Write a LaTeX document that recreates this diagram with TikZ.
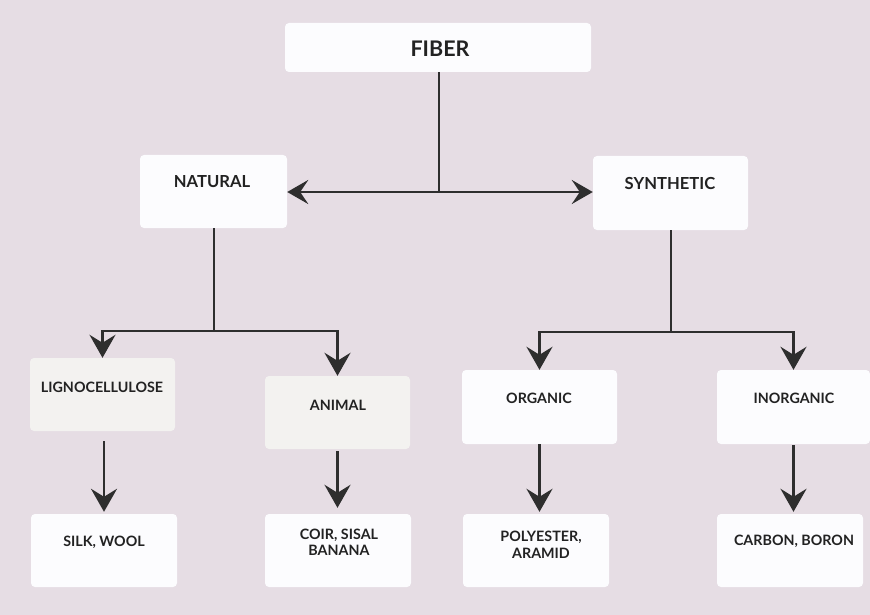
\documentclass[tikz,border=0pt]{standalone}
\usepackage{fontspec}
\setmainfont{Lato}
\usetikzlibrary{arrows.meta}
\definecolor{bgc}{HTML}{E6DDE4}
\definecolor{boxw}{HTML}{FCFCFE}
\definecolor{boxg}{HTML}{F3F2F0}
\definecolor{ink}{HTML}{222222}
\definecolor{linec}{HTML}{2E2E2E}
\tikzset{
  box/.style={draw=none, fill=boxw, rounded corners=4pt, inner sep=0pt},
  gbox/.style={box, fill=boxg},
  lbl/.style={text=ink, font=\bfseries\fontsize{14.3}{16.5}\selectfont, align=center, inner sep=0pt},
  biglbl/.style={lbl, font=\bfseries\fontsize{16.6}{19}\selectfont},
  toplbl/.style={lbl, font=\bfseries\fontsize{21.5}{24}\selectfont},
  conn/.style={draw=linec, line width=2.7pt},
  arr/.style={conn, -{Stealth[length=23pt,width=26pt,inset=8pt]}},
  darr/.style={conn, {Stealth[length=21pt,width=24pt,inset=8pt]}-{Stealth[length=21pt,width=24pt,inset=8pt]}},
}
\begin{document}
\begin{tikzpicture}[x=1pt,y=-1pt]
\fill[bgc] (0,0) rectangle (870,615);
\useasboundingbox (0,0) rectangle (870,615);
% boxes
\node[box, minimum width=306pt, minimum height=49pt] (fiber) at (438,47.5) {};
\node[box, minimum width=147pt, minimum height=73pt] (natural) at (213.5,191.5) {};
\node[box, minimum width=155pt, minimum height=74pt] (synthetic) at (670.5,193) {};
\node[gbox, minimum width=145pt, minimum height=73pt] (ligno) at (102.5,394.5) {};
\node[gbox, minimum width=145pt, minimum height=73pt] (animal) at (337.5,412.5) {};
\node[box, minimum width=155pt, minimum height=74pt] (organic) at (539.5,407) {};
\node[box, minimum width=153pt, minimum height=74pt] (inorganic) at (793.5,407) {};
\node[box, minimum width=146pt, minimum height=73pt] (silk) at (104,550.5) {};
\node[box, minimum width=146pt, minimum height=73pt] (coir) at (338,550.5) {};
\node[box, minimum width=146pt, minimum height=73pt] (poly) at (536,550.5) {};
\node[box, minimum width=146pt, minimum height=73pt] (carbon) at (790,550.5) {};
% labels
\node[toplbl] (fiber-t) at (440,49) {FIBER};
\node[biglbl] (natural-t) at (212,182) {NATURAL};
\node[biglbl] (synthetic-t) at (670,183) {SYNTHETIC};
\node[lbl] (ligno-t) at (102,387) {LIGNOCELLULOSE};
\node[lbl] (animal-t) at (338,405) {ANIMAL};
\node[lbl] (organic-t) at (539,398) {ORGANIC};
\node[lbl] (inorganic-t) at (794,398) {INORGANIC};
\node[lbl] (silk-t) at (104,542) {SILK, WOOL};
\node[lbl] (coir-t) at (339,542.5) {COIR, SISAL\\BANANA};
\node[lbl] (poly-t) at (541,545) {POLYESTER,\\ARAMID};
\node[lbl] (carbon-t) at (794,541) {CARBON, BORON};
% connectors
\coordinate (fj) at (439,192);
\coordinate (nj) at (214,331);
\coordinate (sj) at (671,332);
\draw[conn] (fiber.south -| fj) -- (fj);
\draw[darr] (natural.east |- fj) -- (synthetic.west |- fj);
\draw[conn] (natural.south -| nj) -- (nj);
\draw[arr] (nj) -| (ligno.north);
\draw[arr] (nj) -| (animal.north);
\draw[conn] (synthetic.south -| sj) -- (sj);
\draw[arr] (sj) -| (organic.north);
\draw[arr] (sj) -| (inorganic.north);
\draw[arr, shorten <=10pt, shorten >=2pt] (ligno.south -| silk.north) -- (silk.north);
\draw[arr, shorten <=2pt, shorten >=6pt] (animal.south) -- (animal.south |- coir.north);
\draw[arr, shorten <=0pt, shorten >=2pt] (organic.south) -- (organic.south |- poly.north);
\draw[arr, shorten <=1pt, shorten >=2pt] (inorganic.south) -- (inorganic.south |- carbon.north);
\end{tikzpicture}
\end{document}
